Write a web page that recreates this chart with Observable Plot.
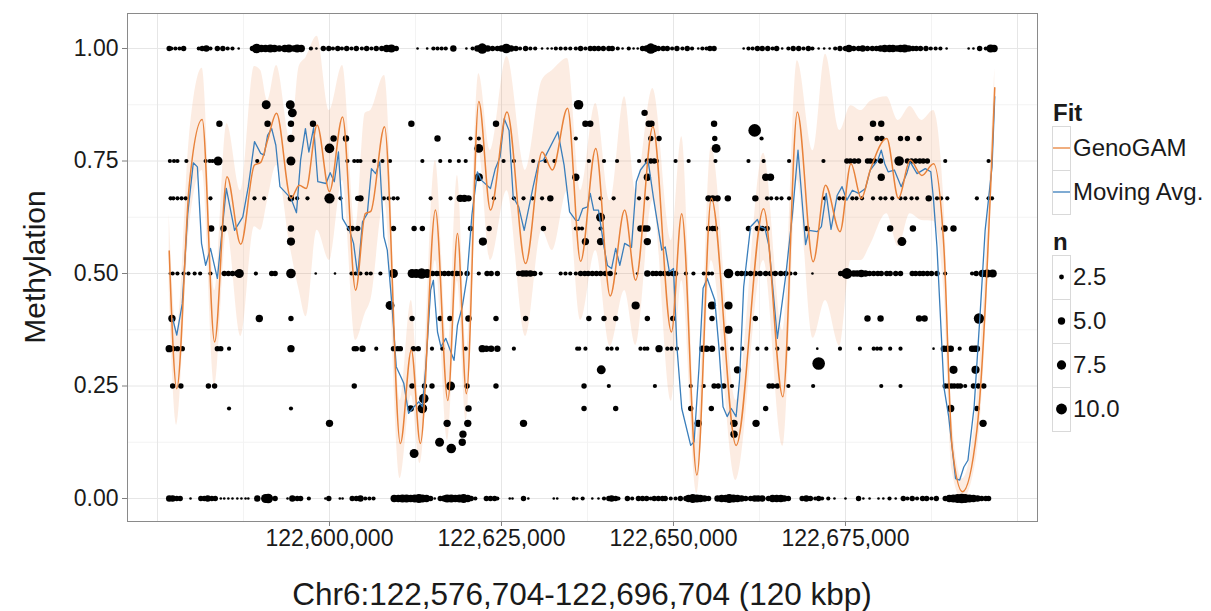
<!DOCTYPE html>
<html><head><meta charset="utf-8">
<script src="https://cdn.jsdelivr.net/npm/d3@7"></script>
<script src="https://cdn.jsdelivr.net/npm/@observablehq/plot@0.6"></script>
<style>
html,body{margin:0;padding:0;background:#fff;}
#wrap{position:relative;width:1211px;height:611px;font-family:'Liberation Sans',Arial,sans-serif;color:#1a1a1a;overflow:hidden;}
.ttl{position:absolute;white-space:nowrap;font-size:30px;line-height:1;}
#wrap svg{display:block;}
</style></head><body><div id="wrap"></div>
<script>
// ---------- axis / grid values ----------
const xTicks = [122600000, 122625000, 122650000, 122675000];
const xGridMajor = [122575000, 122600000, 122625000, 122650000, 122675000, 122700000];
const xGridMinor = [122587500, 122612500, 122637500, 122662500, 122687500];
const yTicks = [0, 0.25, 0.5, 0.75, 1];
const yGridMinor = [0.125, 0.375, 0.625, 0.875];
const xTitle = "Chr6:122,576,704-122,696,704 (120 kbp)";
const yTitle = "Methylation";
const fitNames = ["GenoGAM", "Moving Avg."];
const sizeBreaks = [2.5, 5.0, 7.5, 10.0];

// ---------- GenoGAM fit (kb, methylation) with confidence band ----------
const gamPos = [122576.7,122577.8,122579.6,122581.5,122583.3,122585.1,122587.1,122589.1,122590.0,122591.0,122592.3,122594.4,122595.6,122596.6,122598.2,122600.0,122601.9,122603.8,122605.2,122606.0,122608.0,122610.3,122611.9,122613.2,122615.4,122617.2,122618.6,122619.9,122621.7,122623.4,122625.8,122628.5,122630.9,122632.4,122634.6,122636.5,122638.7,122640.8,122642.9,122644.5,122647.0,122649.7,122651.2,122653.4,122655.5,122659.1,122663.1,122665.9,122668.0,122670.3,122672.1,122674.2,122675.8,122677.3,122678.6,122681.0,122682.7,122684.4,122686.1,122687.8,122689.3,122690.5,122692.0,122694.1,122696.7];
const gamFit = [.55,.244,.693,.842,.348,.715,.565,.741,.747,.796,.856,.667,.696,.689,.830,.682,.848,.463,.633,.638,.826,.122,.330,.122,.641,.218,.589,.233,.882,.641,.859,.522,.770,.730,.867,.527,.778,.450,.641,.485,.826,.370,.633,.052,.667,.118,.644,.226,.859,.526,.696,.593,.744,.667,.730,.8,.667,.752,.718,.744,.559,.115,.015,.152,.913];
const gamUpper = [.633,.373,.796,.956,.462,.833,.684,.96,.951,.884,.962,.796,.96,.98,1.027,.862,.962,.596,.856,.862,.940,.218,.44,.196,.751,.329,.718,.329,.944,.773,.982,.729,.929,.951,.978,.684,.878,.662,.893,.684,.911,.573,.804,.129,.782,.218,.767,.373,.973,.773,.987,.818,.873,.862,.882,.893,.84,.871,.84,.862,.662,.173,.044,.218,.956];
const gamLower = [.462,.162,.596,.729,.249,.596,.360,.604,.596,.662,.740,.551,.462,.404,.596,.529,.707,.351,.411,.44,.662,.044,.229,.078,.529,.129,.484,.173,.773,.529,.684,.36,.596,.551,.684,.396,.551,.338,.462,.34,.662,.216,.484,.011,.529,.04,.529,.116,.707,.356,.44,.338,.529,.529,.562,.633,.56,.633,.618,.616,.462,.062,-.004,.096,.856];

// ---------- Moving average (kb, methylation) ----------
const maPos = [122577.2,122577.8,122578.6,122579.4,122580.2,122580.8,122581.4,122582.0,122582.7,122583.7,122585.0,122586.2,122587.4,122588.2,122589.1,122590.0,122590.5,122591.0,122591.6,122592.2,122592.8,122594.4,122595.2,122595.8,122596.5,122597.0,122597.7,122598.3,122599.5,122600.1,122600.7,122601.3,122601.9,122602.9,122603.5,122604.1,122604.8,122605.5,122606.1,122606.7,122607.3,122607.9,122608.4,122609.1,122609.7,122610.8,122611.5,122612.3,122613.0,122613.5,122614.0,122614.7,122615.1,122615.7,122616.2,122616.9,122618.1,122618.6,122619.3,122620.0,122620.7,122621.5,122622.1,122623.4,122624.1,122624.8,122625.4,122626.1,122626.7,122627.5,122628.3,122629.6,122630.4,122631.1,122633.2,122634.1,122634.9,122635.8,122636.2,122636.8,122637.5,122637.9,122638.4,122639.1,122639.9,122640.4,122641.0,122641.6,122642.2,122642.9,122643.9,122644.6,122645.2,122646.3,122647.1,122648.3,122648.8,122649.4,122650.0,122650.5,122651.2,122652.5,122653.0,122653.7,122654.3,122654.9,122656.0,122656.6,122657.2,122657.8,122658.4,122659.1,122659.6,122660.2,122661.2,122662.2,122662.6,122663.3,122663.9,122665.1,122666.3,122667.3,122668.1,122669.2,122669.7,122670.9,122671.5,122672.2,122672.9,122673.8,122674.5,122675.2,122676.0,122676.9,122677.9,122678.6,122679.7,122680.2,122680.7,122681.2,122682.1,122683.1,122683.9,122684.4,122685.4,122686.6,122687.4,122687.8,122688.3,122689.3,122690.0,122691.0,122691.6,122692.2,122692.8,122693.7,122694.6,122695.3,122696.3,122696.7];
const maVal = [.40,.363,.433,.633,.746,.737,.567,.518,.556,.489,.689,.596,.626,.693,.793,.767,.763,.807,.822,.785,.693,.667,.635,.752,.822,.770,.824,.704,.70,.724,.704,.770,.622,.596,.567,.496,.615,.633,.733,.722,.748,.582,.552,.426,.293,.256,.189,.204,.215,.204,.293,.463,.485,.370,.337,.356,.307,.385,.426,.493,.630,.726,.707,.689,.733,.759,.844,.818,.670,.648,.596,.693,.748,.752,.815,.741,.637,.618,.618,.644,.648,.678,.641,.641,.559,.518,.511,.556,.518,.567,.558,.704,.730,.752,.667,.552,.559,.504,.511,.337,.2,.118,.126,.289,.467,.489,.441,.337,.204,.182,.2,.182,.263,.470,.604,.62,.604,.6,.559,.356,.493,.633,.774,.564,.596,.593,.604,.678,.598,.674,.693,.663,.685,.678,.689,.730,.752,.774,.744,.726,.730,.693,.722,.748,.722,.733,.726,.663,.559,.248,.182,.044,.041,.070,.085,.204,.418,.596,.737,.893];

// ---------- CpG sites: [position kb, coverage n] per methylation level ----------
const sites100 = [[122576.7,3],[122577.0,2],[122577.6,2],[122578.2,2],[122578.8,3],[122581.0,2],[122581.5,3],[122582.1,4],[122582.7,2],[122583.7,3],[122584.5,3],[122585.2,2],[122585.9,2],[122586.8,1],[122588.8,3],[122589.4,8],[122590.1,5],[122590.7,5],[122591.4,6],[122592.0,5],[122592.7,4],[122593.5,5],[122594.1,6],[122594.8,4],[122595.3,6],[122595.9,5],[122597.3,2],[122598.1,1],[122599.1,3],[122599.9,3],[122600.5,2],[122601.2,3],[122601.8,2],[122602.5,3],[122603.2,2],[122603.9,3],[122604.7,2],[122605.4,3],[122606.1,2],[122606.8,3],[122607.6,3],[122608.3,5],[122609.0,6],[122609.7,3],[122612.8,1],[122614.2,1],[122615.1,2],[122615.7,2],[122616.3,2],[122616.9,2],[122618.0,4],[122619.9,1],[122620.8,2],[122621.5,4],[122622.2,9],[122623.0,4],[122623.7,3],[122624.4,3],[122625.0,4],[122625.7,8],[122626.4,4],[122627.1,3],[122627.7,2],[122628.5,3],[122629.2,2],[122629.9,2],[122630.9,1],[122631.7,1],[122632.3,1],[122632.9,2],[122633.6,2],[122634.3,2],[122635.0,2],[122635.8,2],[122636.5,3],[122637.2,2],[122637.9,3],[122638.5,3],[122639.1,3],[122639.8,3],[122640.6,3],[122641.1,3],[122641.9,2],[122642.6,1],[122643.5,2],[122644.2,1],[122644.8,1],[122645.5,3],[122646.1,4],[122646.7,9],[122647.2,5],[122647.8,3],[122648.5,3],[122649.1,3],[122649.8,2],[122650.5,3],[122651.3,2],[122652.0,3],[122652.7,2],[122653.6,1],[122654.2,2],[122654.8,2],[122655.3,3],[122655.9,3],[122660.2,1],[122660.9,2],[122661.5,2],[122662.2,3],[122662.9,3],[122663.7,3],[122664.4,2],[122665.0,3],[122665.8,1],[122666.7,2],[122667.4,3],[122668.2,3],[122668.9,2],[122669.6,3],[122670.2,2],[122671.1,1],[122671.9,1],[122672.7,1],[122673.5,2],[122674.2,3],[122675.0,3],[122675.5,5],[122676.2,3],[122676.9,3],[122677.5,4],[122678.2,3],[122678.9,3],[122679.5,3],[122680.1,4],[122680.7,5],[122681.4,5],[122681.9,5],[122682.5,4],[122683.0,5],[122683.6,6],[122684.2,4],[122684.8,3],[122685.3,3],[122685.9,3],[122686.7,3],[122687.4,2],[122688.1,2],[122688.8,2],[122689.7,1],[122692.9,1],[122693.6,1],[122694.5,3],[122695.4,2],[122696.1,6],[122696.6,5]];
const sites088 = [[122590.8,7],[122594.3,7],[122636.2,8]];
const sites086 = [[122594.6,7],[122645.8,4]];
const sites083 = [[122584.0,4],[122591.0,4],[122594.4,4],[122597.6,4],[122611.9,4],[122624.2,4],[122637.2,4],[122637.9,4],[122646.4,4],[122646.8,4],[122655.9,4],[122679.0,4],[122680.2,4]];
const sites082 = [[122661.8,13]];
const sites080 = [[122594.4,5],[122600.6,4],[122602.4,4],[122615.7,4],[122620.5,2],[122621.7,2],[122635.8,2],[122646.7,3],[122647.9,3],[122656.0,3],[122662.8,2],[122677.2,3],[122679.6,3],[122680.3,3],[122683.0,3],[122684.0,3],[122685.7,3]];
const sites078 = [[122600.0,8],[122621.7,7],[122656.2,7]];
const sites075 = [[122576.8,2],[122577.4,2],[122577.9,2],[122579.2,2],[122582.0,2],[122582.6,2],[122583.0,2],[122583.8,7],[122589.5,2],[122594.4,7],[122602.6,2],[122603.6,2],[122604.1,2],[122604.5,2],[122606.5,2],[122607.7,2],[122608.8,2],[122613.5,2],[122616.1,2],[122617.5,2],[122618.8,2],[122619.8,2],[122625.3,2],[122626.8,2],[122629.6,2],[122631.4,2],[122632.7,2],[122637.7,2],[122639.9,2],[122641.8,2],[122645.0,2],[122646.2,3],[122646.7,3],[122647.2,3],[122647.6,2],[122650.3,2],[122652.2,2],[122656.1,2],[122660.9,2],[122663.1,2],[122666.8,2],[122671.8,2],[122675.2,3],[122675.7,3],[122676.3,3],[122676.9,3],[122678.2,3],[122678.6,3],[122679.2,3],[122680.1,3],[122682.8,8],[122684.0,3],[122684.6,3],[122685.2,3],[122685.8,3],[122686.3,3],[122686.9,3],[122689.5,2],[122695.8,2]];
const sites071 = [[122621.7,6],[122635.8,5],[122646.2,5],[122663.4,5],[122664.1,5],[122680.2,5]];
const sites067 = [[122576.9,2],[122577.3,2],[122577.9,2],[122578.5,2],[122579.1,2],[122582.7,2],[122589.1,2],[122590.5,2],[122594.4,4],[122595.3,2],[122596.8,2],[122600.0,9],[122601.6,2],[122604.1,3],[122604.5,4],[122607.9,2],[122608.6,2],[122609.3,2],[122609.9,2],[122614.7,2],[122617.6,2],[122619.0,5],[122619.6,5],[122620.2,4],[122623.9,2],[122626.8,2],[122628.2,2],[122629.5,2],[122630.9,2],[122632.1,4],[122639.4,2],[122641.3,2],[122645.0,2],[122646.2,2],[122655.1,4],[122655.7,4],[122656.4,4],[122657.9,4],[122661.9,4],[122663.6,2],[122664.2,2],[122665.0,2],[122665.7,2],[122666.8,2],[122672.0,2],[122674.1,2],[122674.7,2],[122676.0,2],[122676.6,2],[122677.4,2],[122679.0,2],[122680.1,2],[122680.8,2],[122681.8,2],[122683.0,2],[122683.7,2],[122684.6,2],[122685.4,2],[122687.1,4],[122688.3,2],[122688.9,2],[122689.8,2],[122694.1,2],[122695.8,2],[122696.3,2]];
const sites063 = [[122639.4,7]];
const sites060 = [[122582.8,4],[122584.6,4],[122594.4,4],[122602.9,3],[122603.3,3],[122604.1,3],[122609.3,3],[122612.3,3],[122613.5,3],[122620.5,3],[122623.2,3],[122631.1,3],[122635.8,2],[122636.2,2],[122636.7,2],[122639.4,2],[122645.2,4],[122645.8,4],[122646.2,4],[122655.1,3],[122655.7,3],[122656.1,3],[122660.9,3],[122662.2,3],[122662.9,3],[122663.6,3],[122669.4,3],[122681.5,4],[122684.8,4],[122689.4,4],[122690.7,4]];
const sites057 = [[122594.4,6],[122622.3,6],[122637.2,5],[122639.4,5],[122646.2,5],[122683.2,7]];
const sites050 = [[122576.8,1],[122577.2,2],[122577.9,2],[122578.8,2],[122579.5,2],[122580.4,2],[122581.2,2],[122582.7,2],[122584.7,3],[122585.3,3],[122585.9,3],[122586.5,3],[122586.9,7],[122589.3,2],[122591.6,3],[122592.1,3],[122594.4,8],[122598.0,1],[122600.8,1],[122603.2,2],[122603.8,2],[122604.5,2],[122605.4,2],[122606.0,2],[122607.4,2],[122609.3,7],[122612.0,7],[122612.6,7],[122613.4,9],[122614.2,7],[122615.0,3],[122615.6,3],[122616.1,3],[122616.7,3],[122617.3,3],[122617.9,3],[122618.5,3],[122619.0,3],[122620.0,3],[122621.7,2],[122622.9,3],[122623.5,3],[122624.4,3],[122627.5,3],[122628.1,4],[122628.6,4],[122629.2,4],[122629.8,3],[122630.7,2],[122633.6,2],[122634.3,2],[122635.0,2],[122635.8,2],[122636.5,3],[122637.1,3],[122637.6,3],[122638.2,3],[122638.8,3],[122639.4,3],[122640.1,3],[122640.8,3],[122641.6,1],[122644.7,1],[122646.2,4],[122647.0,3],[122647.5,3],[122648.1,3],[122648.7,3],[122649.3,3],[122649.9,3],[122650.3,3],[122651.8,2],[122652.9,2],[122654.4,2],[122655.1,2],[122655.6,2],[122658.0,8],[122659.3,3],[122659.9,3],[122660.5,3],[122661.2,3],[122661.9,3],[122662.6,3],[122663.4,3],[122664.1,3],[122664.8,3],[122665.6,3],[122666.3,3],[122667.0,2],[122667.7,2],[122670.2,1],[122674.3,3],[122675.2,10],[122676.2,4],[122676.7,4],[122677.3,5],[122677.9,4],[122678.5,3],[122679.1,3],[122679.7,3],[122680.2,3],[122681.0,3],[122681.5,3],[122682.3,3],[122683.0,3],[122684.7,3],[122685.2,3],[122685.8,3],[122686.3,3],[122686.9,3],[122687.5,3],[122688.3,3],[122689.5,2],[122693.4,2],[122694.0,3],[122694.9,5],[122695.6,6],[122696.4,6]];
const sites043 = [[122608.8,7],[122644.5,6],[122655.6,6],[122658.0,6]];
const sites040 = [[122577.1,5],[122589.8,5],[122594.4,3],[122612.0,3],[122616.1,3],[122617.5,3],[122620.2,4],[122624.2,3],[122628.5,3],[122637.7,3],[122639.9,3],[122641.6,3],[122646.2,3],[122649.9,3],[122655.6,3],[122661.9,3],[122678.2,4],[122680.1,4],[122685.7,4],[122686.5,4],[122694.4,9]];
const sites038 = [[122658.0,6]];
const sites033 = [[122576.7,5],[122577.3,3],[122577.9,3],[122578.6,3],[122583.7,3],[122584.2,3],[122585.4,2],[122594.4,5],[122603.6,3],[122603.9,3],[122604.8,4],[122606.8,2],[122609.3,3],[122609.9,3],[122610.3,3],[122612.2,3],[122612.9,3],[122614.9,2],[122616.4,2],[122619.8,2],[122622.2,5],[122622.8,4],[122623.5,4],[122624.4,4],[122626.8,2],[122636.0,2],[122636.3,2],[122637.2,2],[122640.4,2],[122641.0,2],[122641.8,2],[122645.2,2],[122645.8,2],[122646.2,2],[122647.9,5],[122649.1,2],[122649.7,2],[122650.5,2],[122654.2,4],[122654.8,4],[122655.6,4],[122657.1,2],[122658.5,2],[122660.0,2],[122662.2,2],[122663.5,2],[122665.1,2],[122666.7,2],[122670.9,1],[122674.2,2],[122677.1,2],[122679.1,2],[122679.6,2],[122680.1,2],[122681.5,2],[122683.0,2],[122687.8,1],[122689.3,4],[122689.8,4],[122690.3,4],[122691.6,2],[122693.4,4],[122693.8,4],[122694.1,4]];
const sites030 = [[122671.1,13]];
const sites029 = [[122639.5,7],[122659.3,5],[122690.7,6],[122693.9,6]];
const sites025 = [[122577.2,3],[122578.4,3],[122582.4,3],[122583.3,3],[122603.6,3],[122612.0,3],[122613.8,3],[122614.9,3],[122617.6,7],[122620.0,3],[122624.2,3],[122637.0,3],[122640.6,2],[122647.3,2],[122652.5,2],[122654.4,2],[122655.9,3],[122656.5,3],[122657.3,3],[122658.5,2],[122663.9,3],[122664.4,3],[122665.1,3],[122666.7,2],[122670.3,2],[122680.2,2],[122683.0,2],[122689.5,3],[122690.0,3],[122690.4,3],[122690.8,3],[122691.3,3],[122691.7,3],[122692.4,2],[122693.6,3],[122694.3,3],[122695.1,3]];
const sites022 = [[122613.7,8]];
const sites020 = [[122585.4,2],[122594.4,2],[122611.8,4],[122613.5,8],[122620.2,4],[122637.0,3],[122641.6,3],[122652.5,3],[122655.5,3],[122663.4,3],[122690.3,5],[122694.1,3]];
const sites017 = [[122600.0,5],[122617.1,5],[122620.1,5],[122628.2,5],[122653.6,5],[122658.8,5],[122662.0,5],[122695.0,5]];
const sites014 = [[122619.4,5],[122658.8,5]];
const sites013 = [[122616.0,7],[122619.3,5]];
const sites011 = [[122617.7,8]];
const sites010 = [[122612.3,7]];
const sites000 = [[122576.7,4],[122577.2,4],[122577.8,3],[122578.3,3],[122579.8,1],[122581.3,3],[122581.8,3],[122582.3,4],[122582.9,3],[122583.4,3],[122584.2,1],[122584.7,1],[122585.3,1],[122585.9,1],[122586.6,1],[122587.2,1],[122587.8,1],[122588.2,1],[122589.5,4],[122590.7,7],[122591.1,8],[122592.1,3],[122593.9,1],[122594.6,4],[122595.3,3],[122595.8,3],[122597.0,2],[122599.4,1],[122599.9,3],[122601.5,1],[122601.9,1],[122603.3,3],[122603.9,3],[122604.5,4],[122605.2,2],[122605.8,2],[122606.4,2],[122609.4,5],[122610.0,5],[122610.6,6],[122611.2,6],[122611.8,5],[122612.4,6],[122613.0,7],[122613.5,6],[122614.1,5],[122614.7,3],[122615.3,1],[122616.1,3],[122616.7,4],[122617.1,6],[122617.7,6],[122618.3,5],[122618.9,6],[122619.5,7],[122620.1,5],[122620.6,3],[122621.2,2],[122622.8,3],[122623.4,3],[122624.0,3],[122624.4,2],[122626.2,1],[122626.6,1],[122628.2,3],[122628.9,1],[122632.6,1],[122633.1,1],[122635.5,2],[122636.0,1],[122636.8,2],[122638.2,1],[122639.1,1],[122639.9,2],[122640.6,3],[122641.0,4],[122641.6,3],[122642.0,2],[122643.3,3],[122644.0,2],[122644.9,3],[122645.5,3],[122646.1,3],[122646.7,2],[122647.2,3],[122647.8,3],[122648.4,3],[122648.8,3],[122649.6,2],[122650.3,2],[122651.0,3],[122651.8,3],[122652.2,5],[122652.8,7],[122653.4,6],[122653.9,5],[122654.5,4],[122655.1,3],[122656.4,4],[122657.0,5],[122657.6,5],[122658.1,7],[122658.7,6],[122659.3,5],[122659.9,4],[122660.5,3],[122661.2,3],[122661.8,4],[122662.3,4],[122662.9,4],[122663.2,1],[122663.8,3],[122664.4,5],[122665.0,5],[122665.6,5],[122666.1,4],[122666.7,3],[122668.7,3],[122669.3,4],[122669.9,3],[122670.6,2],[122671.1,3],[122671.6,2],[122672.5,2],[122673.4,1],[122675.0,1],[122676.9,3],[122677.6,1],[122678.5,1],[122679.8,1],[122680.5,1],[122681.4,2],[122682.3,1],[122683.4,3],[122684.0,2],[122684.7,3],[122685.4,2],[122686.2,3],[122686.8,3],[122687.5,2],[122688.2,3],[122689.5,3],[122690.1,5],[122690.7,6],[122691.3,7],[122691.9,8],[122692.4,7],[122693.0,6],[122693.6,5],[122694.2,4],[122694.8,3],[122695.4,3],[122695.8,3]];

const methLevels = [1, 0.875, 0.857, 0.833, 0.818, 0.8, 0.778, 0.75, 0.714, 0.667, 0.625, 0.6, 0.571, 0.5, 0.429, 0.4, 0.375, 0.333, 0.3, 0.286, 0.25, 0.222, 0.2, 0.167, 0.143, 0.125, 0.111, 0.1, 0];
const siteLists = [sites100, sites088, sites086, sites083, sites082, sites080, sites078, sites075, sites071, sites067, sites063, sites060, sites057, sites050, sites043, sites040, sites038, sites033, sites030, sites029, sites025, sites022, sites020, sites017, sites014, sites013, sites011, sites010, sites000];

// ---------- build tables ----------
const cpg = siteLists.flatMap((list, k) => list.map(([kb, n]) => ({pos: kb * 1000, meth: methLevels[k], n})));
const gam = gamPos.map((kb, i) => ({pos: kb * 1000, fit: gamFit[i], lo: gamLower[i], hi: gamUpper[i]}));
const ma = maPos.map((kb, i) => ({pos: kb * 1000, val: maVal[i]}));

const ORANGE = "#E8823A", BLUE = "#3A7EBB";
const rScale = {type: "pow", exponent: 0.5, domain: [1, 13], range: [1.3, 6.3]};

const chart = Plot.plot({
  width: 1211, height: 611,
  marginLeft: 127, marginRight: 174, marginTop: 13, marginBottom: 90,
  style: {fontFamily: "'Liberation Sans', Arial, sans-serif", fontSize: "23px", color: "#1a1a1a", background: "white", overflow: "visible"},
  x: {domain: [122570640, 122702910]},
  y: {domain: [-0.0511, 1.0778]},
  r: rScale,
  marks: [
    Plot.ruleX(xGridMinor, {stroke: "#f3f3f3", strokeWidth: 1}),
    Plot.ruleY(yGridMinor, {stroke: "#f3f3f3", strokeWidth: 1}),
    Plot.ruleX(xGridMajor, {stroke: "#e6e6e6", strokeWidth: 1}),
    Plot.ruleY(yTicks, {stroke: "#e6e6e6", strokeWidth: 1}),
    Plot.areaY(gam, {x: "pos", y1: "lo", y2: "hi", fill: ORANGE, fillOpacity: 0.15, curve: "monotone-x"}),
    Plot.dot(cpg, {x: "pos", y: "meth", r: "n", fill: "black", stroke: "none"}),
    Plot.line(ma, {x: "pos", y: "val", stroke: BLUE, strokeWidth: 1.3}),
    Plot.line(gam, {x: "pos", y: "fit", stroke: ORANGE, strokeWidth: 1.5, curve: "monotone-x"}),
    Plot.axisX({ticks: xTicks, tickFormat: d3.format(","), tickSize: 5, tickPadding: 3, label: null, stroke: "#7f7f7f", fill: "#1a1a1a"}),
    Plot.axisY({ticks: yTicks, tickFormat: d3.format(".2f"), tickSize: 5, tickPadding: 4, label: null, stroke: "#7f7f7f", fill: "#1a1a1a"}),
    Plot.frame({stroke: "#8a8a8a"})
  ]
});

const wrap = document.getElementById("wrap");
wrap.appendChild(chart);

// axis titles
const yt = document.createElement("div");
yt.className = "ttl"; yt.textContent = yTitle;
yt.style.left = "35px"; yt.style.top = "267px";
yt.style.transform = "translate(-50%,-50%) rotate(-90deg)";
wrap.appendChild(yt);
const xt = document.createElement("div");
xt.className = "ttl"; xt.textContent = xTitle;
xt.style.fontSize = "31.5px";
xt.style.left = "582px"; xt.style.top = "595px";
xt.style.transform = "translate(-50%,-50%)";
wrap.appendChild(xt);

// legend
let rFn;
try { const s = chart.scale("r"); rFn = s && s.apply ? (v) => s.apply(v) : null; } catch (e) { rFn = null; }
if (!rFn) { const s = d3.scalePow().exponent(0.5).domain(rScale.domain).range(rScale.range); rFn = (v) => s(v); }

const leg = d3.select(wrap).append("svg")
  .attr("width", 170).attr("height", 360)
  .style("position", "absolute").style("left", "1041px").style("top", "95px")
  .style("font-family", "'Liberation Sans', Arial, sans-serif");
const ox = 1041, oy = 95;
leg.append("text").attr("x", 1053 - ox).attr("y", 121 - oy).attr("font-size", 24).attr("font-weight", "bold").attr("fill", "#1a1a1a").text("Fit");
const fitColors = [ORANGE, BLUE];
fitNames.forEach((name, i) => {
  const top = 126 + i * 44 - oy;
  leg.append("rect").attr("x", 1052.5 - ox).attr("y", top + 0.5).attr("width", 18).attr("height", 44).attr("fill", "white").attr("stroke", "#d9d9d9");
  leg.append("line").attr("x1", 1053 - ox).attr("x2", 1070 - ox).attr("y1", top + 22).attr("y2", top + 22).attr("stroke", fitColors[i]).attr("stroke-width", 1.3);
  leg.append("text").attr("x", 1073 - ox).attr("y", top + 22).attr("dy", "0.35em").attr("font-size", 24).attr("fill", "#1a1a1a").text(name);
});
leg.append("text").attr("x", 1053 - ox).attr("y", 250 - oy).attr("font-size", 24).attr("font-weight", "bold").attr("fill", "#1a1a1a").text("n");
sizeBreaks.forEach((v, i) => {
  const top = 255 + i * 44 - oy;
  leg.append("rect").attr("x", 1052.5 - ox).attr("y", top + 0.5).attr("width", 18).attr("height", 44).attr("fill", "white").attr("stroke", "#d9d9d9");
  leg.append("circle").attr("cx", 1061.5 - ox).attr("cy", top + 22).attr("r", rFn(v)).attr("fill", "black");
  leg.append("text").attr("x", 1073 - ox).attr("y", top + 22).attr("dy", "0.35em").attr("font-size", 24).attr("fill", "#1a1a1a").text(d3.format(".1f")(v));
});
</script></body></html>
